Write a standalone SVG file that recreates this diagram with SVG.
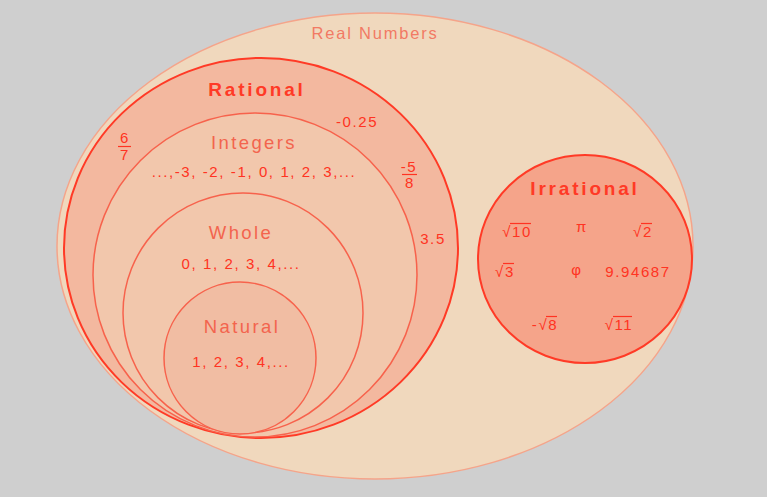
<svg xmlns="http://www.w3.org/2000/svg" width="767" height="497" viewBox="0 0 767 497">
  <style>
    text { font-family: "Liberation Sans", Arial, sans-serif; text-anchor: middle; }
    .title { font-size: 19px; font-weight: bold; fill: #ff3a26; letter-spacing: 2.8px; }
    .label { font-size: 18.5px; fill: #f3644e; letter-spacing: 2.4px; }
    .num { font-size: 15px; fill: #ff3322; letter-spacing: 1.6px; }
    .real { font-size: 16.5px; fill: #f27a64; letter-spacing: 1.8px; }
    .bar { stroke: #ff3322; stroke-width: 1.2; }
  </style>
  <rect width="767" height="497" fill="#cfcfcf"/>
  <g id="real-numbers">
    <ellipse cx="375" cy="246" rx="318" ry="233" fill="#f0d8bd" stroke="#f5a48a" stroke-width="1.5"/>
    <text class="real" x="375" y="39">Real Numbers</text>
  </g>
  <g id="rational">
    <ellipse cx="261" cy="248" rx="197" ry="190" fill="#f3b89f" stroke="#ff3a26" stroke-width="2"/>
    <text class="title" x="257" y="96">Rational</text>
    <text class="num" x="357" y="127">-0.25</text>
    <text class="num" x="125" y="143">6</text>
    <line class="bar" x1="118" y1="146.5" x2="131" y2="146.5"/>
    <text class="num" x="125" y="160">7</text>
    <text class="num" x="409" y="172">-5</text>
    <line class="bar" x1="402" y1="174.5" x2="417" y2="174.5"/>
    <text class="num" x="410" y="188">8</text>
    <text class="num" x="433" y="244">3.5</text>
  </g>
  <g id="integers">
    <circle cx="255" cy="275" r="162" fill="#f2c7ac" stroke="#f7624c" stroke-width="1.5"/>
    <text class="label" x="254" y="149">Integers</text>
    <text class="num" x="254" y="177">...,-3, -2, -1, 0, 1, 2, 3,...</text>
  </g>
  <g id="whole">
    <circle cx="243" cy="313" r="120" fill="#f2c7ac" stroke="#f7624c" stroke-width="1.5"/>
    <text class="label" x="241" y="239">Whole</text>
    <text class="num" x="241" y="269">0, 1, 2, 3, 4,...</text>
  </g>
  <g id="natural">
    <circle cx="240" cy="358" r="76" fill="#f1bda3" stroke="#f7624c" stroke-width="1.5"/>
    <text class="label" x="242" y="333">Natural</text>
    <text class="num" x="241" y="367">1, 2, 3, 4,...</text>
  </g>
  <g id="irrational">
    <ellipse cx="585" cy="259" rx="107" ry="104" fill="#f5a48a" stroke="#ff3a26" stroke-width="2"/>
    <text class="title" x="585" y="195">Irrational</text>
    <text class="num" x="517" y="237">√10</text>
    <line class="bar" x1="510" y1="223.5" x2="531" y2="223.5"/>
    <text class="num" x="582" y="232">π</text>
    <text class="num" x="643" y="237">√2</text>
    <line class="bar" x1="641" y1="223.5" x2="652" y2="223.5"/>
    <text class="num" x="505" y="277">√3</text>
    <line class="bar" x1="503" y1="263.5" x2="514" y2="263.5"/>
    <text class="num" x="577" y="275">φ</text>
    <text class="num" x="638" y="277">9.94687</text>
    <text class="num" x="545" y="330">-√8</text>
    <line class="bar" x1="546" y1="316.5" x2="557" y2="316.5"/>
    <text class="num" x="619" y="330">√11</text>
    <line class="bar" x1="613" y1="316.5" x2="632" y2="316.5"/>
  </g>
  <g id="connectors"/>
</svg>
